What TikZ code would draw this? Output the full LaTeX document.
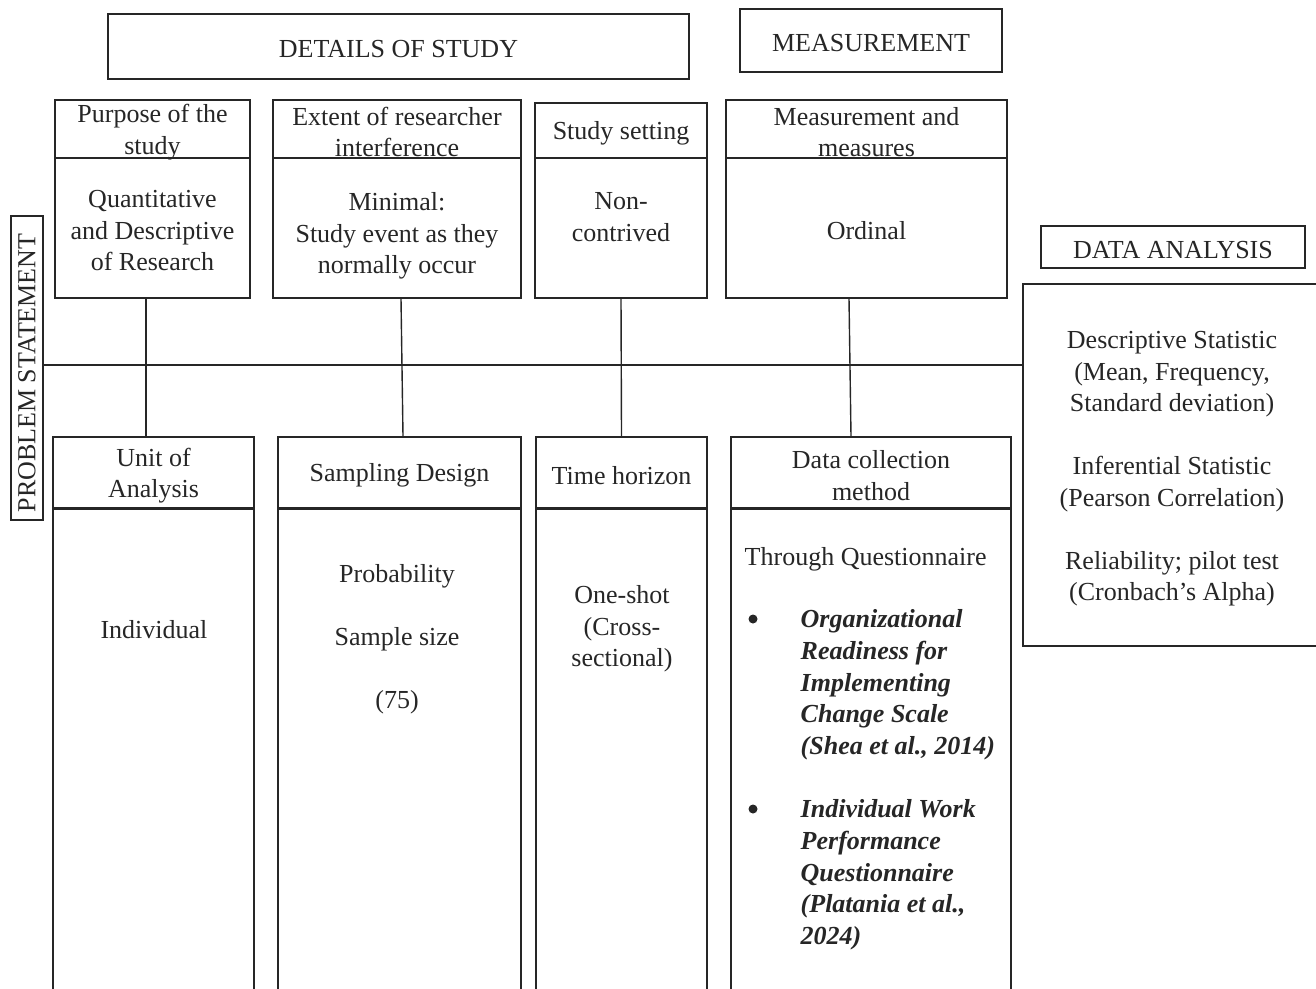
\documentclass[tikz,border=0pt]{standalone}
\usepackage{fontspec}
\setmainfont{Liberation Serif}
\usetikzlibrary{positioning}

\begin{document}
\begin{tikzpicture}[x=1pt, y=-1pt, color=black!85, line width=1.4pt,
    box/.style={draw, rectangle, inner sep=0pt},
    lbl/.style={inner sep=0pt, align=center, font=\fontsize{26}{31.5}\selectfont},
    txt/.style={lbl, yshift=-3pt},
    item/.style={inner sep=0pt, align=left, font=\fontsize{26}{31.7}\selectfont\bfseries\itshape},
    dot/.style={circle, fill, inner sep=0pt, minimum size=9pt},
    sep/.style={line width=3.2pt}]

  \useasboundingbox (0,0) rectangle (1316,988);
  \clip (0,0) rectangle (1316,988);

  % titles
  \node[box, minimum width=581pt, minimum height=65pt] (det) at (398.5,46.5) {};
  \node[txt] (dett) at (det) {DETAILS OF STUDY};
  \node[box, minimum width=262pt, minimum height=63pt] (meas) at (871,40.5) {};
  \node[txt] (meast) at (meas) {MEASUREMENT};
  \node[box, minimum width=264pt, minimum height=42pt] (dah) at (1173,247) {};
  \node[txt] (daht) at (dah) {DATA ANALYSIS};
  \node[box, minimum width=32pt, minimum height=304pt] (prob) at (27,368) {};
  \node[lbl, rotate=90] (probt) at (27,373) {PROBLEM STATEMENT};

  % upper row
  \node[box, minimum width=195pt, minimum height=58pt] (purh) at (152.5,129) {};
  \node[txt] (purht) at (purh) {Purpose of the\\study};
  \node[box, minimum width=195pt, minimum height=140pt] (purb) at (152.5,228) {};
  \node[txt] (purbt) at (purb) {Quantitative\\and Descriptive\\of Research};
  \node[box, minimum width=248pt, minimum height=58pt] (exth) at (397,129) {};
  \node[txt] (extht) at (exth) {Extent of researcher\\interference};
  \node[box, minimum width=248pt, minimum height=140pt] (extb) at (397,228) {};
  \node[txt] (extbt) at (397,233) {Minimal:\\Study event as they\\normally occur};
  \node[box, minimum width=172pt, minimum height=55pt] (seth) at (621,130.5) {};
  \node[txt] (setht) at (seth) {Study setting};
  \node[box, minimum width=172pt, minimum height=140pt] (setb) at (621,228) {};
  \node[txt] (setbt) at (621,214) {Non-\\contrived};
  \node[box, minimum width=281pt, minimum height=58pt] (mesh) at (866.5,129) {};
  \node[txt] (mesht) at (mesh) {Measurement and\\measures};
  \node[box, minimum width=281pt, minimum height=140pt] (mesb) at (866.5,228) {};
  \node[txt] (mesbt) at (mesb) {Ordinal};

  % data analysis
  \node[box, minimum width=297pt, minimum height=362pt] (dab) at (1171.5,465) {};
  \node[txt] (dabt) at (1172,466) {Descriptive Statistic\\(Mean, Frequency,\\Standard deviation)\\[31.5pt]Inferential Statistic\\(Pearson Correlation)\\[31.5pt]Reliability; pilot test\\(Cronbach's Alpha)};

  % lower row
  \node[box, minimum width=201pt, minimum height=71pt] (unith) at (153.5,472.5) {};
  \node[txt] (unitht) at (unith) {Unit of\\Analysis};
  \node[box, minimum width=201pt, minimum height=502pt] (unitb) at (153.5,759) {};
  \node[txt] (unitbt) at (154,627) {Individual};
  \node[box, minimum width=243pt, minimum height=71pt] (samh) at (399.5,472.5) {};
  \node[txt] (samht) at (samh) {Sampling Design};
  \node[box, minimum width=243pt, minimum height=502pt] (samb) at (399.5,759) {};
  \node[txt] (sambt) at (397,636) {Probability\\[31.5pt]Sample size\\[31.5pt](75)};
  \node[box, minimum width=171pt, minimum height=71pt] (timh) at (621.5,472.5) {};
  \node[txt] (timht) at (timh) {Time horizon};
  \node[box, minimum width=171pt, minimum height=502pt] (timb) at (621.5,759) {};
  \node[txt] (timbt) at (622,626) {One-shot\\(Cross-\\sectional)};
  \node[box, minimum width=280pt, minimum height=71pt] (colh) at (871,472.5) {};
  \node[txt] (colht) at (colh) {Data collection\\method};
  \node[box, minimum width=280pt, minimum height=502pt] (colb) at (871,759) {};
  \node[txt, anchor=west] (colbt) at (744,556) {Through Questionnaire};
  \node[dot] (bul1) at (753,619) {};
  \node[item, anchor=north west] (itm1) at (800,609) {Organizational\\Readiness for\\Implementing\\Change Scale\\(Shea et al., 2014)};
  \node[dot] (bul2) at (753,809) {};
  \node[item, anchor=north west] (itm2) at (800,799) {Individual Work\\Performance\\Questionnaire\\(Platania et al.,\\2024)};

  \draw[sep] (unith.south west) -- (unith.south east);
  \draw[sep] (samh.south west) -- (samh.south east);
  \draw[sep] (timh.south west) -- (timh.south east);
  \draw[sep] (colh.south west) -- (colh.south east);

  % connectors
  \draw (prob.east |- 0,365) -- (dab.west |- 0,365);
  \draw ([xshift=-6.5pt]purb.south) -- ([xshift=-7.5pt]unith.north);
  \draw ([xshift=4pt]extb.south) -- ([xshift=3.5pt]samh.north);
  \draw (setb.south) -- (timh.north);
  \draw ([xshift=-17.5pt]mesb.south) -- ([xshift=-20pt]colh.north);

\end{tikzpicture}
\end{document}
